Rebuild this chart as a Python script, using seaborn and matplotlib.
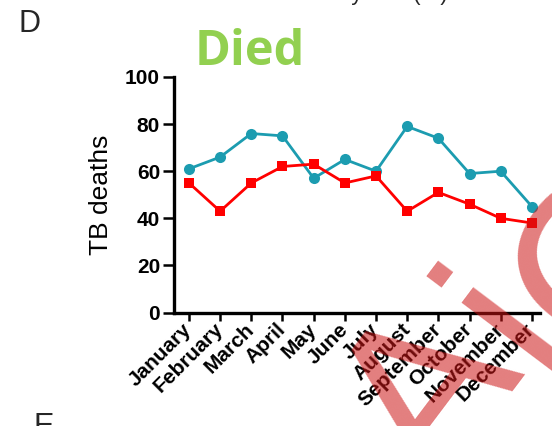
import matplotlib
matplotlib.use("Agg")
import matplotlib.pyplot as plt
import seaborn as sns
import pandas as pd

# Monthly TB deaths, two groups
months = ["January", "February", "March", "April", "May", "June",
          "July", "August", "September", "October", "November", "December"]
deaths_teal = [61, 66, 76, 75, 57, 65, 60, 79, 74, 59, 60, 45]
deaths_red = [55, 43, 55, 62, 63, 55, 58, 43, 51, 46, 40, 38]
y_ticks = [0, 20, 40, 60, 80, 100]

TEAL = "#1c9cb0"
RED = "#ff0000"

sns.set_theme(style="ticks")
plt.rcParams["font.family"] = ["Liberation Sans", "DejaVu Sans"]

fig = plt.figure(figsize=(5.52, 4.26), dpi=100)
ax = fig.add_axes([174 / 552, 113.5 / 426, 366 / 552, 235.5 / 426])

pos = list(range(len(months)))
df_teal = pd.DataFrame({"pos": pos, "deaths": deaths_teal})
df_red = pd.DataFrame({"pos": pos, "deaths": deaths_red})

sns.lineplot(data=df_teal, x="pos", y="deaths", ax=ax, color=TEAL,
             marker="o", markersize=8, markeredgewidth=0, linewidth=2.0,
             legend=False)
sns.lineplot(data=df_red, x="pos", y="deaths", ax=ax, color=RED,
             marker="s", markersize=7.8, markeredgewidth=0, linewidth=2.0,
             legend=False)

ax.set_xlim(-0.48, 11.26)
ax.set_ylim(0, 100)
ax.set_yticks(y_ticks)
ax.set_yticklabels([str(v) for v in y_ticks], fontsize=15, fontweight="bold")
ax.set_xticks(pos)
ax.set_xticklabels(months, fontsize=15, fontweight="bold", rotation=45,
                   ha="right", va="center", rotation_mode="anchor")
ax.set_xlabel("")
ax.set_ylabel("TB deaths", fontsize=19, labelpad=9, color="black")

sns.despine(ax=ax)
for side in ("left", "bottom"):
    ax.spines[side].set_linewidth(2.4)
    ax.spines[side].set_color("black")
ax.tick_params(axis="y", length=8, width=1.8, pad=2, colors="black")
ax.tick_params(axis="x", length=6, width=1.8, pad=4, colors="black")
ax.grid(False)

# Panel titles and letters
fig.text(0.452, 0.847, "Died", color="#92d050", fontsize=35,
         fontweight="bold", family=["Open Sans", "DejaVu Sans"],
         ha="center", va="baseline")
fig.text(0.033, 0.925, "D", fontsize=22, ha="left", va="baseline")
fig.text(0.06, -0.021, "E", fontsize=22, ha="left", va="baseline")
fig.text(0.503, 0.999, "Mortality rate (%)", fontsize=16, ha="left",
         va="baseline")

# Watermark overlay, one glyph at a time
wm_style = dict(fontsize=160, rotation=53, rotation_mode="anchor",
                ha="left", va="baseline", color=(0.8, 0.08, 0.08),
                alpha=0.55, zorder=10)
fig.text(0.790, -0.155, "A", **wm_style)
fig.text(0.979, 0.124, "i", **wm_style)
fig.text(1.094, 0.146, "C", **wm_style)

fig.savefig("out.png", dpi=100)
